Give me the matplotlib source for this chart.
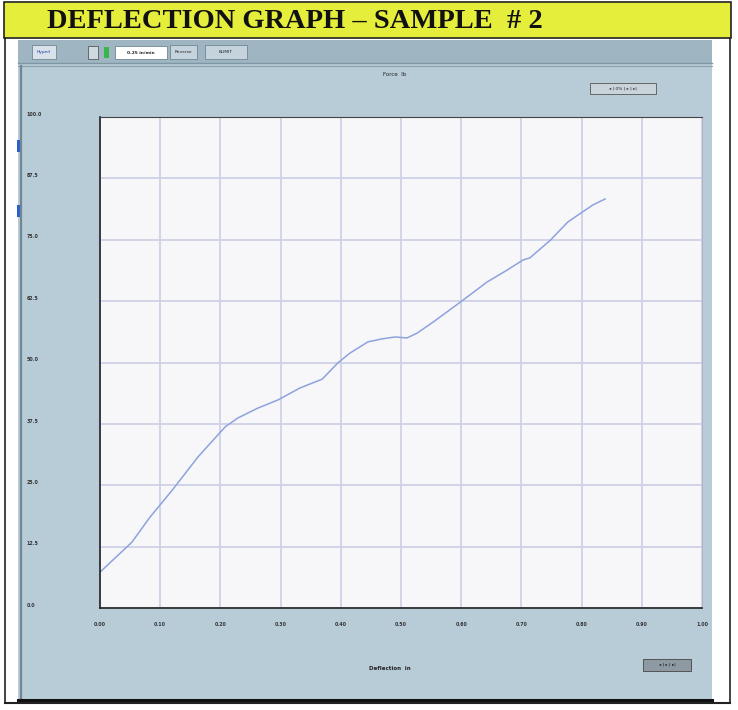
import matplotlib
matplotlib.use("Agg")
import matplotlib.pyplot as plt
from matplotlib.patches import Rectangle

# ---- data ----
deflection = [0.000, 0.053, 0.083, 0.120, 0.163, 0.208, 0.229, 0.262, 0.296, 0.332,
              0.369, 0.395, 0.415, 0.445, 0.468, 0.490, 0.510, 0.527, 0.553, 0.603,
              0.643, 0.676, 0.703, 0.714, 0.748, 0.777, 0.802, 0.819, 0.839]
force = [7.3, 13.4, 18.5, 24.0, 30.8, 36.9, 38.7, 40.7, 42.4, 44.8,
         46.6, 49.9, 51.9, 54.2, 54.8, 55.2, 55.0, 56.0, 58.2, 62.7,
         66.4, 68.8, 70.9, 71.3, 74.9, 78.6, 80.7, 82.1, 83.3]
x_ticks = [0.0, 0.1, 0.2, 0.3, 0.4, 0.5, 0.6, 0.7, 0.8, 0.9, 1.0]
x_tick_labels = ["0.00", "0.10", "0.20", "0.30", "0.40", "0.50", "0.60", "0.70", "0.80", "0.90", "1.00"]
y_ticks = [0, 12.5, 25, 37.5, 50, 62.5, 75, 87.5, 100]
y_tick_labels = ["0.0", "12.5", "25.0", "37.5", "50.0", "62.5", "75.0", "87.5", "100.0"]
title = "DEFLECTION GRAPH \u2013 SAMPLE  # 2"

W, H = 738, 710
fig = plt.figure(figsize=(W / 100, H / 100), dpi=100)
fig.patch.set_facecolor("white")

# background axes in pixel coordinates
bg = fig.add_axes([0, 0, 1, 1])
bg.set_xlim(0, W)
bg.set_ylim(H, 0)
bg.axis("off")

def rect(x, y, w, h, fc, ec="none", lw=0, z=1):
    bg.add_patch(Rectangle((x, y), w, h, facecolor=fc, edgecolor=ec, linewidth=lw, zorder=z))

# title bar
rect(4, 2, 727, 36, "#e6ee3c", "#222222", 1.2)
bg.text(47, 22, title, fontsize=20.5, fontweight="bold", family="Liberation Serif",
        va="center", ha="left", color="#111111")
# outer border
bg.plot([5, 5], [38, 703], color="#222222", lw=1.2)
bg.plot([730, 730], [38, 703], color="#222222", lw=1.2)
bg.plot([5, 730], [703, 703], color="#222222", lw=1.5)

# application panel
rect(18, 40, 694, 660, "#b8ccd7")
rect(18, 40, 694, 23, "#9fb6c2")
bg.plot([18, 712], [63, 63], color="#7f97a4", lw=1)
bg.plot([18, 712], [66, 66], color="#8aa0ad", lw=0.8)
bg.plot([21, 21], [66, 700], color="#6f8794", lw=1.6)
bg.plot([18, 712], [700, 700], color="#111111", lw=2.2)
rect(17, 140, 4, 12, "#2a5fc9")
rect(17, 205, 4, 12, "#2a5fc9")

# toolbar buttons
rect(32, 45, 24, 14, "#d9e2ea", "#6f8794", 0.6, 2)
bg.text(44, 52, "Hyperl", fontsize=3.2, color="#2040a0", ha="center", va="center")
rect(88, 46, 10, 13, "#cfd9e0", "#444444", 0.5, 2)
rect(104, 47, 5, 11, "#39b54a", z=2)
rect(115, 46, 52, 13, "#ffffff", "#6f8794", 0.6, 2)
bg.text(141, 52.5, "0.25 in/min", fontsize=3.2, color="#222222", ha="center", va="center", fontweight="bold")
rect(170, 45, 27, 14, "#c5d3dc", "#6f8794", 0.6, 2)
bg.text(183.5, 52, "Reverse", fontsize=3.2, color="#222222", ha="center", va="center")
rect(205, 45, 42, 14, "#c5d3dc", "#6f8794", 0.6, 2)
bg.text(226, 52, "KLIMIT", fontsize=3.2, color="#222222", ha="center", va="center")

# small nav buttons
rect(590, 83, 66, 11, "#c9d3da", "#555555", 0.6, 2)
bg.text(623, 88.5, "\u25c2 | 0% | \u25b8 | \u25b8|", fontsize=3.2, ha="center", va="center", color="#222222")
rect(643, 659, 48, 12, "#8d9aa3", "#444444", 0.6, 2)
bg.text(667, 665, "\u25c2 | \u25b8 | \u25b8|", fontsize=3.2, ha="center", va="center", color="#111111")

bg.text(395, 74, "Force  lb", fontsize=4, ha="center", va="center", color="#222222")
bg.text(390, 668, "Deflection  in", fontsize=4, ha="center", va="center", color="#222222", fontweight="bold")

# ---- plot axes ----
left, right, top, bottom = 100, 702, 117, 608
ax = fig.add_axes([left / W, 1 - bottom / H, (right - left) / W, (bottom - top) / H])
ax.set_facecolor("#f7f6f9")
ax.set_xlim(0, 1.0)
ax.set_ylim(0, 100)
ax.set_xticks(x_ticks)
ax.set_yticks(y_ticks)
ax.grid(True, color="#cdd2e6", lw=1.3)
ax.tick_params(length=0, labelleft=False, labelbottom=False)
for s in ["left", "bottom"]:
    ax.spines[s].set_color("#222222")
    ax.spines[s].set_linewidth(1.2)
ax.spines["top"].set_color("#444444")
ax.spines["top"].set_linewidth(0.8)
ax.spines["right"].set_color("#b0b4c4")
ax.spines["right"].set_linewidth(0.8)
ax.plot(deflection, force, color="#8da3de", lw=1.1)

# tick labels placed on panel
for v, lab in zip(x_ticks, x_tick_labels):
    ax.text(v, -3.4, lab, fontsize=3.4, ha="center", va="center", color="#333333",
            fontweight="bold", transform=ax.transData, clip_on=False)
for v, lab in zip(y_ticks, y_tick_labels):
    ax.annotate(lab, xy=(0, v), xycoords=("axes fraction", "data"), xytext=(-53, 2),
                textcoords="offset points", fontsize=3.4, ha="left", va="center",
                color="#333333", fontweight="bold")

fig.savefig("out.png", dpi=100)
